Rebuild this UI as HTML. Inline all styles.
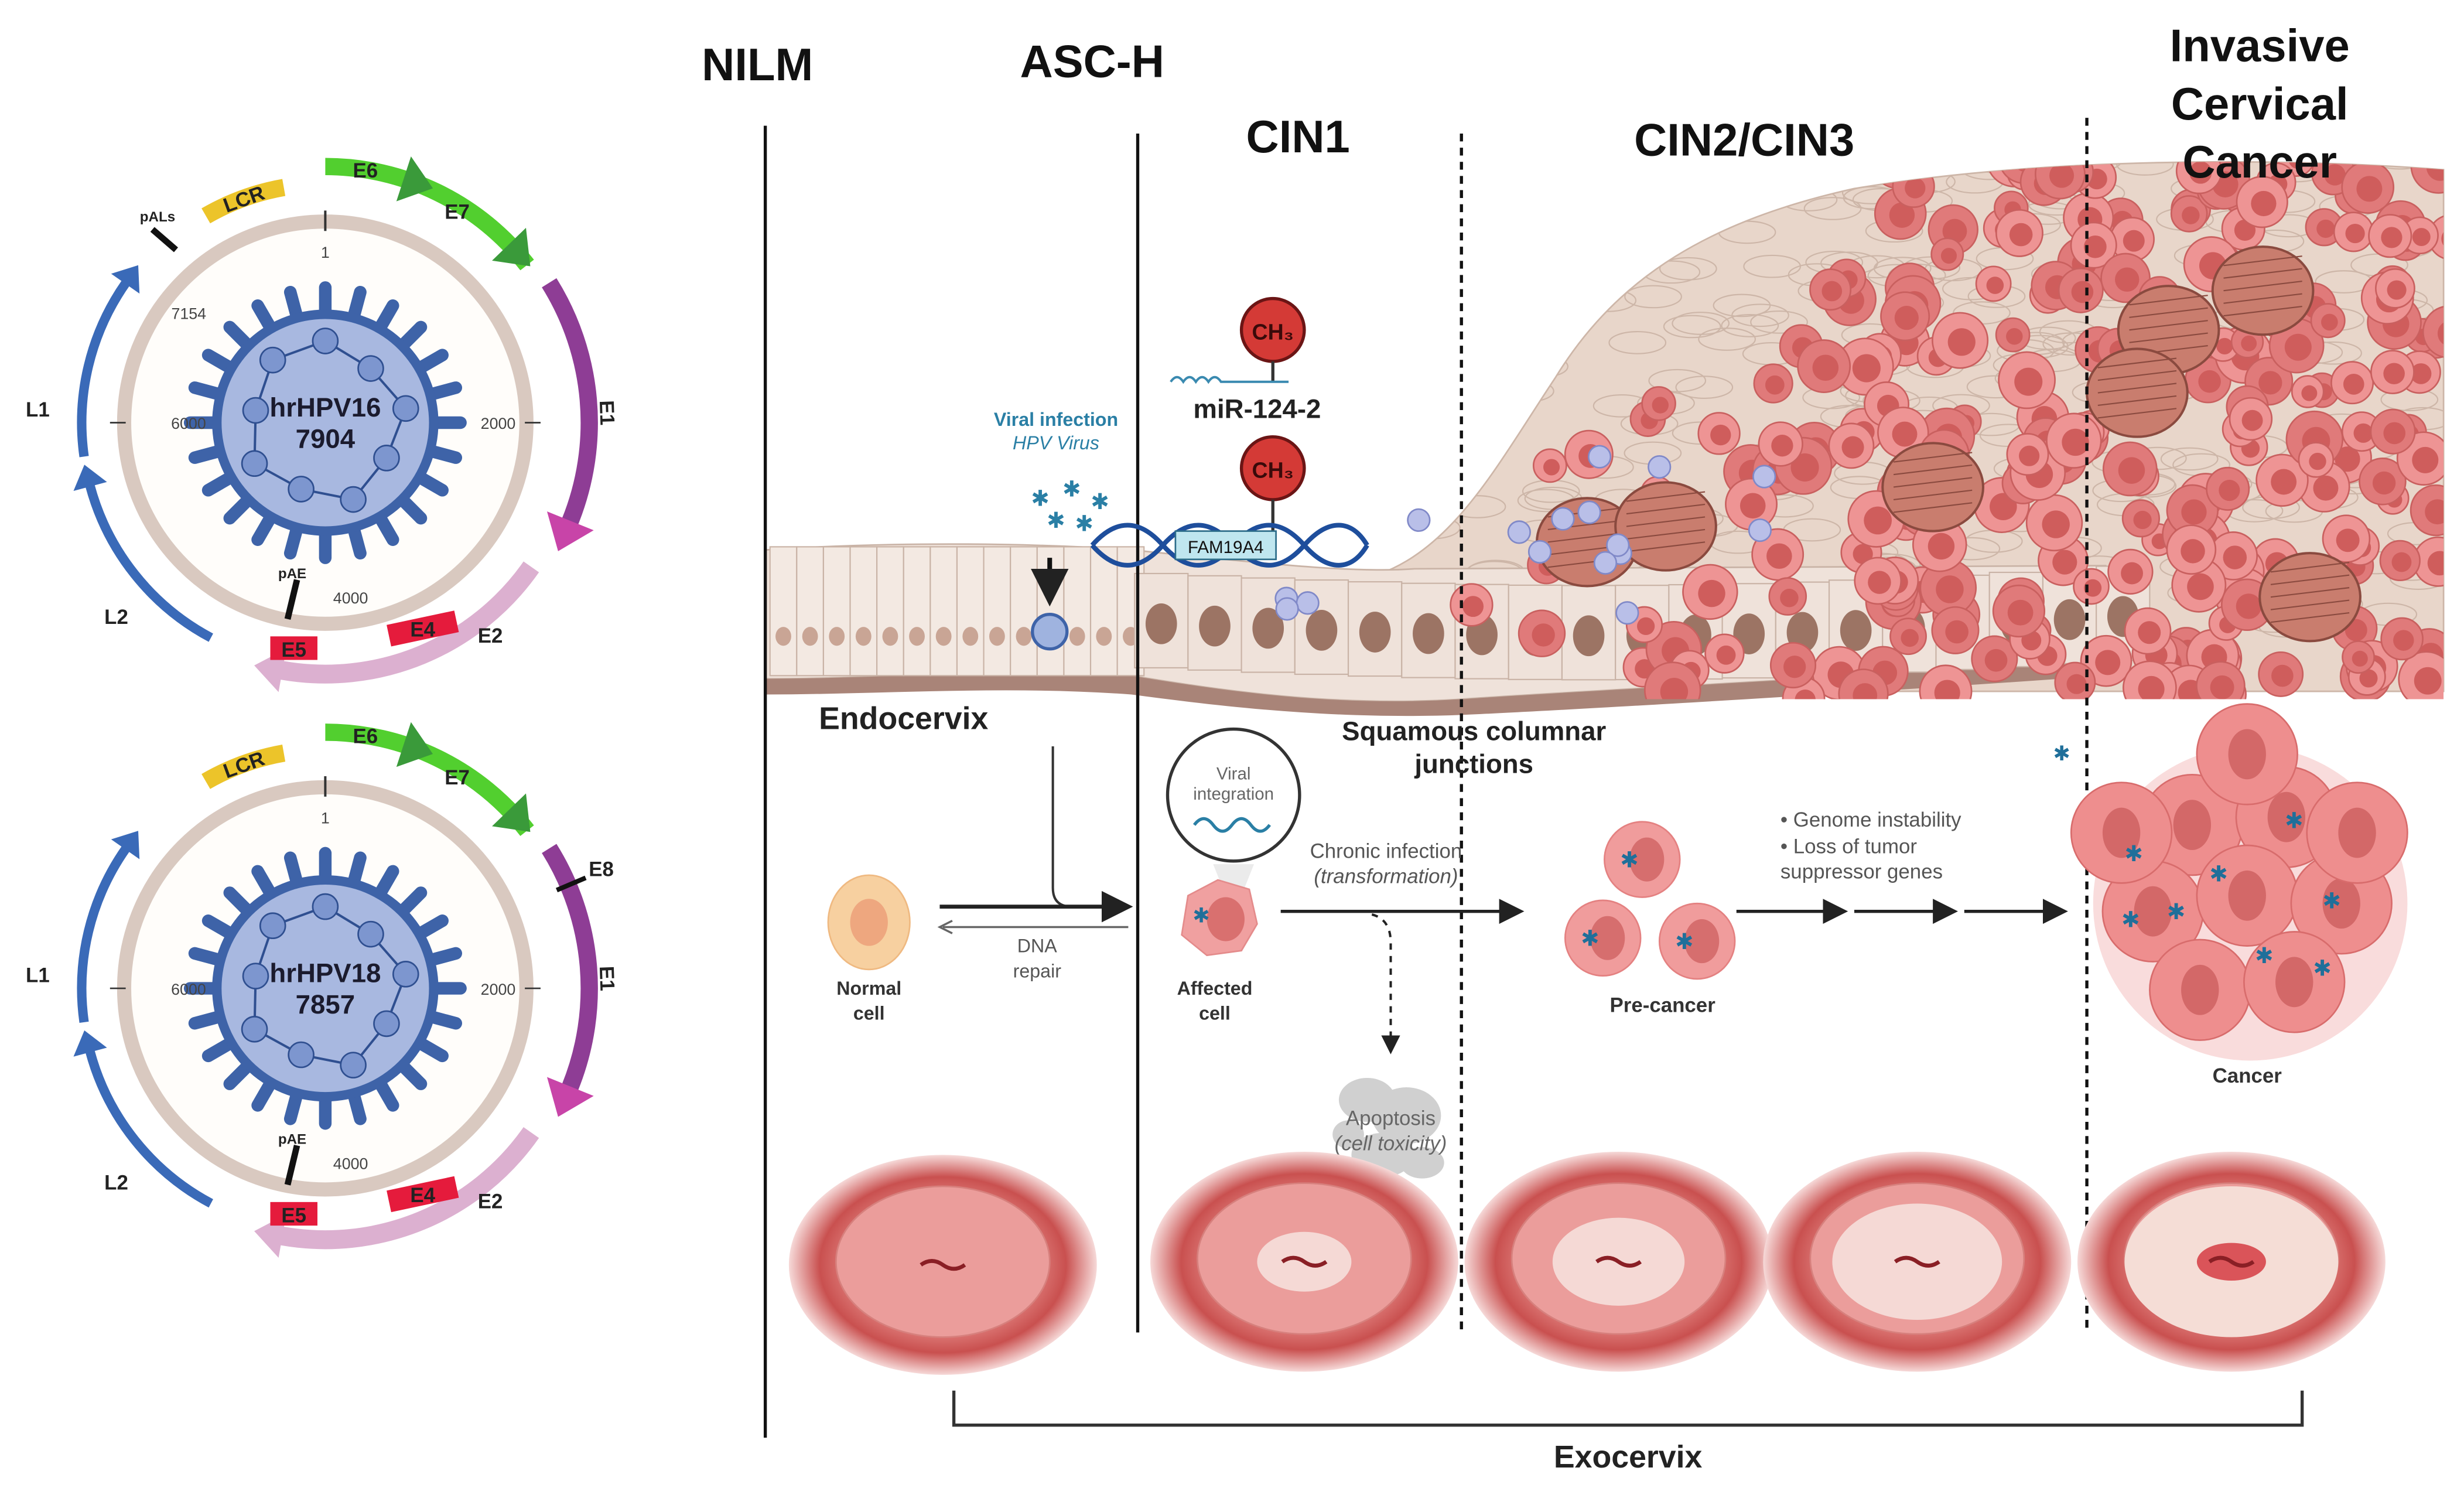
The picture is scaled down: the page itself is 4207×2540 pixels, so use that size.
<!DOCTYPE html>
<html><head><meta charset="utf-8">
<style>
html,body{margin:0;padding:0;background:#fff;}
svg{display:block;}
text{font-family:"Liberation Sans",sans-serif;}
</style></head>
<body>
<svg id="s" xmlns="http://www.w3.org/2000/svg" width="4207" height="2540" viewBox="0 0 1568 947" preserveAspectRatio="none">
<defs>
<radialGradient id="cx" cx="50%" cy="50%" r="50%">
<stop offset="0" stop-color="#f3b7b3"/><stop offset="0.55" stop-color="#e58a87"/><stop offset="0.8" stop-color="#c9504f"/><stop offset="1" stop-color="#f6d9d8"/>
</radialGradient>
<marker id="ah" markerWidth="8" markerHeight="8" refX="6" refY="4" orient="auto"><path d="M0,0 L8,4 L0,8 z" fill="#222"/></marker>
<clipPath id="tc"><path d="M860,370 C920,360 950,300 990,240 C1030,175 1090,140 1180,120 C1300,100 1450,100 1555,108 L1555,445 L860,445 Z"/></clipPath>
</defs>
<rect width="1568" height="947" fill="#fff"/>
<path d="M860,370 C920,360 950,300 990,240 C1030,175 1090,140 1180,120 C1300,100 1450,100 1555,108 L1555,440 L880,440 Z" fill="#e8d6ca" stroke="#cdb6a8"/>
<g id="tis" clip-path="url(#tc)"></g>
<path d="M487,350 C560,345 650,345 720,350 C800,358 860,365 900,362 L1340,360 L1340,420 C1200,430 1000,440 930,445 C850,450 780,440 720,430 C640,425 560,432 487,432 Z" fill="#efe2da" stroke="#c9b3a6"/>
<path d="M487,432 C560,432 640,425 720,430 C780,440 850,450 930,445 C1000,440 1200,430 1340,420 L1340,430 C1200,440 1000,452 930,455 C850,458 780,450 720,442 C640,436 560,442 487,442 Z" fill="#a98478"/>
<g id="epi"></g>
<g id="canc" clip-path="url(#tc)"></g>
<g id="vir"></g>
<line x1="487" y1="80" x2="487" y2="915" stroke="#111" stroke-width="2"/>
<line x1="724" y1="85" x2="724" y2="848" stroke="#111" stroke-width="2"/>
<line x1="930" y1="85" x2="930" y2="848" stroke="#111" stroke-width="2" stroke-dasharray="5,4"/>
<line x1="1328" y1="75" x2="1328" y2="848" stroke="#111" stroke-width="2" stroke-dasharray="5,4"/>
<g font-weight="bold" font-size="29" fill="#111" text-anchor="middle">
<text x="482" y="51">NILM</text>
<text x="695" y="49">ASC-H</text>
<text x="826" y="97">CIN1</text>
<text x="1110" y="99">CIN2/CIN3</text>
<text x="1438" y="39">Invasive</text>
<text x="1438" y="76">Cervical</text>
<text x="1438" y="113">Cancer</text>
</g>
<circle cx="810" cy="210" r="20" fill="#d43a36" stroke="#6b1515" stroke-width="2"/>
<text x="810" y="216" font-size="14" font-weight="bold" text-anchor="middle" fill="#3a0a0a">CH₃</text>
<line x1="810" y1="230" x2="810" y2="243" stroke="#333" stroke-width="2"/>
<path d="M745,243 q4,-6 8,0 q4,-6 8,0 q4,-6 8,0 q4,-6 8,0 L820,243" fill="none" stroke="#3a8ab0" stroke-width="1.5"/>
<text x="800" y="266" font-size="17" font-weight="bold" text-anchor="middle" fill="#222">miR-124-2</text>
<circle cx="810" cy="298" r="20" fill="#d43a36" stroke="#6b1515" stroke-width="2"/>
<text x="810" y="304" font-size="14" font-weight="bold" text-anchor="middle" fill="#3a0a0a">CH₃</text>
<line x1="810" y1="318" x2="810" y2="338" stroke="#333" stroke-width="2"/>
<path d="M695,347 C710,330 725,330 740,347 C755,364 770,364 785,347 C800,330 815,330 830,347 C845,364 860,364 870,347" fill="none" stroke="#1e4e9c" stroke-width="3"/>
<path d="M695,347 C710,364 725,364 740,347 C755,330 770,330 785,347 C800,364 815,364 830,347 C845,330 860,330 870,347" fill="none" stroke="#1e4e9c" stroke-width="3"/>
<rect x="748" y="338" width="64" height="18" fill="#bfe6ef" stroke="#2d6d8a"/>
<text x="780" y="352" font-size="11" text-anchor="middle" fill="#111">FAM19A4</text>
<text x="672" y="271" font-size="12" font-weight="bold" text-anchor="middle" fill="#2a7fa5">Viral infection</text>
<text x="672" y="286" font-size="12" font-style="italic" text-anchor="middle" fill="#2a7fa5">HPV Virus</text>
<g fill="#2a7fa5" font-size="14" text-anchor="middle">
<text x="662" y="322">✱</text><text x="682" y="316">✱</text><text x="700" y="324">✱</text><text x="672" y="336">✱</text><text x="690" y="338">✱</text>
</g>
<line x1="668" y1="355" x2="668" y2="380" stroke="#111" stroke-width="3" marker-end="url(#ah)"/>
<circle cx="668" cy="402" r="11" fill="#9fb3df" stroke="#3e63a8" stroke-width="2"/>
<text x="575" y="464" font-size="20" font-weight="bold" text-anchor="middle" fill="#222">Endocervix</text>
<text x="938" y="471" font-size="17" font-weight="bold" text-anchor="middle" fill="#222">Squamous columnar</text>
<text x="938" y="492" font-size="17" font-weight="bold" text-anchor="middle" fill="#222">junctions</text>
<ellipse cx="553" cy="587" rx="26" ry="30" fill="#f7d0a0" stroke="#efb981"/>
<ellipse cx="553" cy="587" rx="12" ry="15" fill="#eea77f"/>
<text x="553" y="633" font-size="12" font-weight="bold" text-anchor="middle" fill="#333">Normal</text>
<text x="553" y="649" font-size="12" font-weight="bold" text-anchor="middle" fill="#333">cell</text>
<path d="M670,475 L670,565 Q670,577 682,577" fill="none" stroke="#333" stroke-width="1.5"/>
<line x1="598" y1="577" x2="716" y2="577" stroke="#222" stroke-width="2.5" marker-end="url(#ah)"/>
<line x1="718" y1="590" x2="600" y2="590" stroke="#666" stroke-width="1.3"/>
<path d="M606,586 L598,590 L606,594" fill="none" stroke="#666" stroke-width="1.3"/>
<text x="660" y="606" font-size="12" text-anchor="middle" fill="#555">DNA</text>
<text x="660" y="622" font-size="12" text-anchor="middle" fill="#555">repair</text>
<circle cx="785" cy="506" r="42" fill="#fff" stroke="#333" stroke-width="2"/>
<text x="785" y="496" font-size="11" text-anchor="middle" fill="#666">Viral</text>
<text x="785" y="509" font-size="11" text-anchor="middle" fill="#666">integration</text>
<path d="M760,525 q6,-8 12,0 q6,8 12,0 q6,-8 12,0 q6,8 12,0" fill="none" stroke="#2a7fa5" stroke-width="2"/>
<path d="M772,550 L798,550 L790,570 L780,570 Z" fill="#ddd" opacity="0.6"/>
<path d="M756,570 L775,560 L795,566 L800,588 L790,605 L768,608 L752,595 Z" fill="#f0a0a0" stroke="#e48b8b"/>
<ellipse cx="780" cy="585" rx="12" ry="14" fill="#d9706f"/>
<text x="759" y="587" font-size="13" fill="#1f6f9a">✱</text>
<text x="773" y="633" font-size="12" font-weight="bold" text-anchor="middle" fill="#333">Affected</text>
<text x="773" y="649" font-size="12" font-weight="bold" text-anchor="middle" fill="#333">cell</text>
<text x="882" y="546" font-size="13" text-anchor="middle" fill="#555">Chronic infection</text>
<text x="882" y="562" font-size="13" font-style="italic" text-anchor="middle" fill="#555">(transformation)</text>
<line x1="815" y1="580" x2="966" y2="580" stroke="#222" stroke-width="2" marker-end="url(#ah)"/>
<path d="M873,582 Q885,585 885,600 L885,668" fill="none" stroke="#222" stroke-width="1.5" stroke-dasharray="4,4" marker-end="url(#ah)"/>
<g fill="#c8c8c8" opacity="0.85">
<ellipse cx="870" cy="700" rx="18" ry="14"/><ellipse cx="895" cy="710" rx="22" ry="18"/><ellipse cx="880" cy="735" rx="20" ry="14"/><ellipse cx="905" cy="740" rx="14" ry="10"/><ellipse cx="858" cy="722" rx="10" ry="9"/>
</g>
<text x="885" y="716" font-size="13" text-anchor="middle" fill="#666">Apoptosis</text>
<text x="885" y="732" font-size="13" font-style="italic" text-anchor="middle" fill="#666">(cell toxicity)</text>
<g id="pre"></g>
<text x="1058" y="644" font-size="13" font-weight="bold" text-anchor="middle" fill="#333">Pre-cancer</text>
<text x="1133" y="526" font-size="13" fill="#555">• Genome instability</text>
<text x="1133" y="543" font-size="13" fill="#555">• Loss of tumor</text>
<text x="1133" y="559" font-size="13" fill="#555">suppressor genes</text>
<line x1="1105" y1="580" x2="1172" y2="580" stroke="#222" stroke-width="2" marker-end="url(#ah)"/>
<line x1="1180" y1="580" x2="1242" y2="580" stroke="#222" stroke-width="2" marker-end="url(#ah)"/>
<line x1="1250" y1="580" x2="1312" y2="580" stroke="#222" stroke-width="2" marker-end="url(#ah)"/>
<text x="1312" y="484" font-size="13" fill="#1f6f9a" text-anchor="middle">✱</text>
<g id="cl"></g>
<text x="1430" y="689" font-size="13" font-weight="bold" text-anchor="middle" fill="#333">Cancer</text>
<g id="cvx"></g>
<path d="M607,885 L607,907 L1465,907 L1465,885" fill="none" stroke="#333" stroke-width="2"/>
<text x="1036" y="934" font-size="20" font-weight="bold" text-anchor="middle" fill="#222">Exocervix</text>
<g id="hpv"></g>
</svg>
<script>
var NS="http://www.w3.org/2000/svg";
function el(p,t,a,txt){var e=document.createElementNS(NS,t);for(var k in a)e.setAttribute(k,a[k]);if(txt!=null)e.textContent=txt;document.getElementById(p).appendChild(e);return e;}
var seed=7;function rnd(){seed=(seed*9301+49297)%233280;return seed/233280;}
for(var x=490;x<720;x+=17){el('epi','rect',{x:x,y:348,width:17,height:82,fill:'#f3e9e2',stroke:'#c9b3a6','stroke-width':0.8});el('epi','ellipse',{cx:x+8.5,cy:405,rx:5,ry:6,fill:'#c9a595'});}
for(var x=722;x<1340;x+=34){var t=(x-722)/618;var yc=395+Math.sin(t*Math.PI)*10-t*5;el('epi','rect',{x:x,y:yc-30,width:34,height:60,fill:'#efe2da',stroke:'#c9b3a6','stroke-width':0.8});el('epi','ellipse',{cx:x+17,cy:yc+2,rx:10,ry:13,fill:'#9c7464'});}
for(var i=0;i<260;i++){var x=900+rnd()*660,y=100+rnd()*300;el('tis','ellipse',{cx:x,cy:y,rx:18,ry:7,fill:'none',stroke:'#cdb6a8','stroke-width':0.8});}
function ccell(p,x,y,r,col){el(p,'circle',{cx:x,cy:y,r:r,fill:col||'#e98a8a',stroke:'#c9605f','stroke-width':1});el(p,'circle',{cx:x+1,cy:y+1,r:r*0.5,fill:'#cf5d5c'});}
for(var i=0;i<420;i++){var x=880+rnd()*680,y=100+rnd()*345;var d=(x-880)/680;if(rnd()>d*1.4)continue;if(y<360-d*500&&x<1150)continue;ccell('canc',x,y,10+rnd()*8,rnd()<0.5?'#ee9494':'#e07a7a');}
var big=[[1010,345],[1060,335],[1230,310],[1380,210],[1440,185],[1470,380],[1360,250]];
big.forEach(function(b){el('canc','ellipse',{cx:b[0],cy:b[1],rx:32,ry:28,fill:'#c97d6e',stroke:'#8a4a3f','stroke-width':1.5});for(var k=-2;k<=2;k++)el('canc','line',{x1:b[0]-25,y1:b[1]+k*8,x2:b[0]+25,y2:b[1]+k*8-6,stroke:'#8a4a3f','stroke-width':0.8});});
for(var i=0;i<25;i++){var x=760+rnd()*400,y=260+rnd()*140;if(y<400-(x-760)*0.5)continue;el('vir','circle',{cx:x,cy:y,r:7,fill:'#b9bfe8',stroke:'#8089c8'});}
[[1045,547],[1020,597],[1080,599]].forEach(function(c){el('pre','circle',{cx:c[0],cy:c[1],r:24,fill:'#f09c9c',stroke:'#e48181'});el('pre','ellipse',{cx:c[0]+3,cy:c[1],rx:11,ry:14,fill:'#d66e6e'});el('pre','text',{x:c[0]-14,y:c[1]+5,'font-size':14,fill:'#1f6f9a'},'✱');});
el('cl','circle',{cx:1432,cy:575,r:100,fill:'#f9dcdc'});
[[1395,525],[1455,520],[1370,580],[1430,570],[1490,575],[1400,630],[1460,625],[1430,480],[1350,530],[1500,530]].forEach(function(c){el('cl','circle',{cx:c[0],cy:c[1],r:32,fill:'#ee8e8e',stroke:'#d86c6c'});el('cl','ellipse',{cx:c[0],cy:c[1],rx:12,ry:16,fill:'#d36868'});});
[[1460,522],[1358,543],[1412,556],[1385,580],[1484,573],[1356,585],[1441,608],[1478,616]].forEach(function(c){el('cl','text',{x:c[0]-6,y:c[1]+5,'font-size':14,fill:'#1f6f9a'},'✱');});
[[600,805],[830,803],[1030,803],[1220,803],[1420,803]].forEach(function(c,i){el('cvx','ellipse',{cx:c[0],cy:c[1],rx:98,ry:70,fill:'url(#cx)'});el('cvx','ellipse',{cx:c[0],cy:c[1]-2,rx:68,ry:48,fill:'#eb9d9b',stroke:'#d7807d'});
 if(i>0){el('cvx','ellipse',{cx:c[0],cy:c[1],rx:18+i*12,ry:10+i*9,fill:'#f7e4df',opacity:0.85});}
 if(i==4){el('cvx','ellipse',{cx:c[0],cy:c[1],rx:68,ry:48,fill:'#f5ddd6'});el('cvx','ellipse',{cx:c[0],cy:c[1],rx:22,ry:12,fill:'#d3323a',opacity:0.8});}
 el('cvx','path',{d:'M'+(c[0]-14)+','+c[1]+' q7,-5 14,0 q7,5 14,0',fill:'none',stroke:'#8a1f25','stroke-width':2.5});});
function P(cx,cy,r,a){var t=a*Math.PI/180;return [cx+r*Math.sin(t),cy-r*Math.cos(t)];}
function arc(cx,cy,r,a1,a2,col,w){var p1=P(cx,cy,r,a1),p2=P(cx,cy,r,a2);var sw=a2>a1?1:0;var lg=Math.abs(a2-a1)>180?1:0;el('hpv','path',{d:'M'+p1+' A'+r+','+r+' 0 '+lg+' '+sw+' '+p2,fill:'none',stroke:col,'stroke-width':w});}
function tri(cx,cy,r,a,dir,col,s){var t=a*Math.PI/180;var tx=Math.cos(t)*dir,ty=Math.sin(t)*dir;var b=P(cx,cy,r,a);var nx=Math.sin(t),ny=-Math.cos(t);var tip=[b[0]+tx*s*1.3,b[1]+ty*s*1.3];el('hpv','polygon',{points:tip+' '+(b[0]+nx*s)+','+(b[1]+ny*s)+' '+(b[0]-nx*s)+','+(b[1]-ny*s),fill:col,stroke:col});}
function map(cy,name,num,isE8){var cx=207;
 el('hpv','circle',{cx:cx,cy:cy,r:128,fill:'#fffdfa',stroke:'#d9c9c0','stroke-width':9});
 for(var a=0;a<360;a+=15){var p=P(cx,cy,86,a),q=P(cx,cy,68,a);el('hpv','line',{x1:q[0],y1:q[1],x2:p[0],y2:p[1],stroke:'#3e63a8','stroke-width':8,'stroke-linecap':'round'});}
 el('hpv','circle',{cx:cx,cy:cy,r:72,fill:'#3e63a8'});
 el('hpv','circle',{cx:cx,cy:cy,r:66,fill:'#a8b8e0'});
 var pts=[];for(var a=0;a<360;a+=40){pts.push(P(cx,cy,a%80==0?52:45,a));}
 el('hpv','polygon',{points:pts.join(' '),fill:'none',stroke:'#2f4f90','stroke-width':1.5});
 pts.forEach(function(pp){el('hpv','circle',{cx:pp[0],cy:pp[1],r:8,fill:'#7d96cf',stroke:'#2f4f90'});});
 el('hpv','text',{x:cx,y:cy-4,'font-size':17,'font-weight':'bold','text-anchor':'middle',fill:'#1b1b2e'},name);
 el('hpv','text',{x:cx,y:cy+16,'font-size':17,'font-weight':'bold','text-anchor':'middle',fill:'#1b1b2e'},num);
 el('hpv','line',{x1:cx,y1:cy-135,x2:cx,y2:cy-122,stroke:'#333','stroke-width':1.5});
 el('hpv','text',{x:cx,y:cy-105,'font-size':10,'text-anchor':'middle',fill:'#444'},'1');
 el('hpv','text',{x:cx-87,y:cy+4,'font-size':10,'text-anchor':'middle',fill:'#444'},'6000');
 el('hpv','line',{x1:cx-137,y1:cy,x2:cx-127,y2:cy,stroke:'#333'});
 el('hpv','text',{x:cx+110,y:cy+4,'font-size':10,'text-anchor':'middle',fill:'#444'},'2000');
 el('hpv','line',{x1:cx+127,y1:cy,x2:cx+137,y2:cy,stroke:'#333'});
 el('hpv','text',{x:cx+5,y:cy+115,'font-size':10,fill:'#444'},'4000');
 el('hpv','line',{x1:cx-18,y1:cy+100,x2:cx-24,y2:cy+125,stroke:'#111','stroke-width':4});
 el('hpv','text',{x:cx-30,y:cy+99,'font-size':9,'font-weight':'bold',fill:'#222'},'pAE');
 if(!isE8){el('hpv','line',{x1:cx-95,y1:cy-110,x2:cx-110,y2:cy-123,stroke:'#111','stroke-width':4});el('hpv','text',{x:cx-118,y:cy-128,'font-size':9,'font-weight':'bold',fill:'#222'},'pALs');el('hpv','text',{x:cx-98,y:cy-66,'font-size':10,fill:'#444'},'7154');}
 arc(cx,cy,152,-30,-10,'#ecc42a',11);
 var lp=P(cx,cy,152,-20);el('hpv','text',{x:lp[0],y:lp[1]+5,'font-size':13,'font-weight':'bold','text-anchor':'middle',fill:'#222',transform:'rotate(-20 '+lp[0]+' '+lp[1]+')'},'LCR');
 arc(cx,cy,163,0,52,'#52cf2f',11);
 tri(cx,cy,163,18,1,'#3a9a3a',14);tri(cx,cy,163,46,1,'#3a9a3a',14);
 var e6=P(cx,cy,163,9);el('hpv','text',{x:e6[0],y:e6[1]+5,'font-size':13,'font-weight':'bold','text-anchor':'middle',fill:'#222'},'E6');
 var e7=P(cx,cy,163,31);el('hpv','text',{x:e7[0],y:e7[1]+10,'font-size':13,'font-weight':'bold','text-anchor':'middle',fill:'#222'},'E7');
 arc(cx,cy,168,58,112,'#8e3d95',11);tri(cx,cy,168,112,1,'#c844a8',15);
 var e1=P(cx,cy,175,88);el('hpv','text',{x:e1[0],y:e1[1],'font-size':13,'font-weight':'bold','text-anchor':'middle',fill:'#222',transform:'rotate(88 '+e1[0]+' '+e1[1]+')'},'E1');
 if(isE8){var p8=P(cx,cy,160,67),q8=P(cx,cy,180,67);el('hpv','line',{x1:p8[0],y1:p8[1],x2:q8[0],y2:q8[1],stroke:'#111','stroke-width':3});el('hpv','text',{x:q8[0]+2,y:q8[1]-1,'font-size':13,'font-weight':'bold',fill:'#222'},'E8');}
 arc(cx,cy,160,125,190,'#dcb0d0',12);tri(cx,cy,160,190,1,'#dcb0d0',13);
 el('hpv','text',{x:cx+105,y:cy+140,'font-size':13,'font-weight':'bold','text-anchor':'middle',fill:'#222'},'E2');
 el('hpv','rect',{x:cx+40,y:cy+124,width:44,height:14,fill:'#e51b3c',transform:'rotate(-12 '+(cx+62)+' '+(cy+131)+')'});
 el('hpv','text',{x:cx+62,y:cy+136,'font-size':13,'font-weight':'bold','text-anchor':'middle',fill:'#222'},'E4');
 el('hpv','rect',{x:cx-35,y:cy+136,width:30,height:15,fill:'#e51b3c'});
 el('hpv','text',{x:cx-20,y:cy+149,'font-size':13,'font-weight':'bold','text-anchor':'middle',fill:'#222'},'E5');
 arc(cx,cy,155,208,255,'#3a6ab8',6);tri(cx,cy,155,255,1,'#3a6ab8',10);
 arc(cx,cy,155,262,305,'#3a6ab8',6);tri(cx,cy,155,305,1,'#3a6ab8',10);
 el('hpv','text',{x:cx-183,y:cy-4,'font-size':13,'font-weight':'bold','text-anchor':'middle',fill:'#222'},'L1');
 el('hpv','text',{x:cx-133,y:cy+128,'font-size':13,'font-weight':'bold','text-anchor':'middle',fill:'#222'},'L2');
}
map(269,'hrHPV16','7904',false);
map(629,'hrHPV18','7857',true);
</script>
</body></html>
